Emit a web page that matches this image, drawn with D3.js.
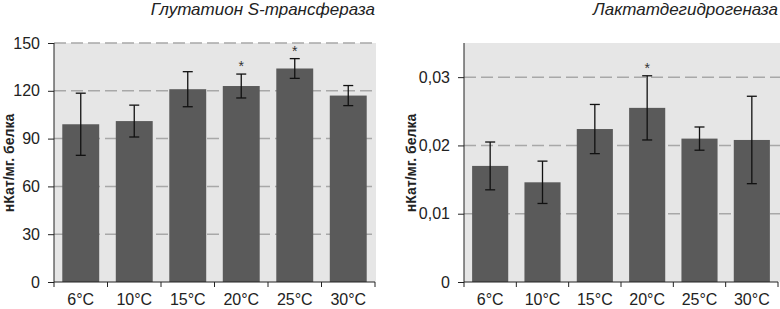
<!DOCTYPE html>
<html>
<head>
<meta charset="utf-8">
<script src="https://cdn.jsdelivr.net/npm/d3@7"></script>
<style>
  body { margin: 0; background: #fff; }
  svg { display: block; font-family: "Liberation Sans", Arial, sans-serif; }
</style>
</head>
<body>
<svg id="chart" width="780" height="309"></svg>
<script>
// temperatures (shared by both panels)
const temps = ["6°C", "10°C", "15°C", "20°C", "25°C", "30°C"];

// Глутатион S-трансфераза
const gstMean = [99, 101, 121, 123, 134, 117];
const gstErr = [19.5, 10, 11, 7.5, 6.2, 6.3];
const gstStar = [false, false, false, true, true, false];
const gstTicks = [0, 30, 60, 90, 120, 150];

// Лактатдегидрогеназа
const ldhMean = [0.0170, 0.0146, 0.0224, 0.0255, 0.0210, 0.0208];
const ldhErr = [0.0035, 0.0031, 0.0036, 0.0047, 0.0017, 0.0064];
const ldhStar = [false, false, false, true, false, false];
const ldhTicks = [0, 0.01, 0.02, 0.03];

const svg = d3.select("#chart");

function drawPanel(opts) {
    const g = svg.append("g");
    const x = d3.scaleBand().domain(temps).range([opts.x0, opts.x1]).padding(0);
    const y = d3.scaleLinear().domain([0, opts.yMax]).range([282, 43]);
    const barW = x.bandwidth() * 0.69;
    const rows = temps.map((t, i) => ({ t: t, v: opts.mean[i], e: opts.err[i], star: opts.star[i] }));
    const cx = t => x(t) + x.bandwidth() / 2;

    // plot background
    g.append("rect")
        .attr("x", opts.x0).attr("y", y(opts.yMax))
        .attr("width", opts.bgRight - opts.x0).attr("height", y(0) - y(opts.yMax))
        .attr("fill", "#e6e6e6");

    // dashed grid
    g.selectAll(".grid").data(opts.ticks.filter(d => d > 0)).join("line")
        .attr("class", "grid")
        .attr("x1", opts.x0).attr("x2", opts.bgRight)
        .attr("y1", d => y(d)).attr("y2", d => y(d))
        .attr("stroke", "#a8a8a8").attr("stroke-width", 1.5)
        .attr("stroke-dasharray", "12,5");

    // bars
    g.selectAll(".bar").data(rows).join("rect")
        .attr("class", "bar")
        .attr("x", d => x(d.t) + (x.bandwidth() - barW) / 2)
        .attr("y", d => y(d.v))
        .attr("width", barW)
        .attr("height", d => y(0) - y(d.v))
        .attr("fill", "#5a5a5a");

    // error bars
    const eb = g.selectAll(".err").data(rows).join("g").attr("class", "err")
        .attr("stroke", "#111").attr("stroke-width", 1.3);
    eb.append("line")
        .attr("x1", d => cx(d.t)).attr("x2", d => cx(d.t))
        .attr("y1", d => y(d.v + d.e)).attr("y2", d => y(d.v - d.e));
    eb.append("line")
        .attr("x1", d => cx(d.t) - 5).attr("x2", d => cx(d.t) + 5)
        .attr("y1", d => y(d.v + d.e)).attr("y2", d => y(d.v + d.e));
    eb.append("line")
        .attr("x1", d => cx(d.t) - 5).attr("x2", d => cx(d.t) + 5)
        .attr("y1", d => y(d.v - d.e)).attr("y2", d => y(d.v - d.e));

    // significance stars
    g.selectAll(".star").data(rows.filter(d => d.star)).join("text")
        .attr("class", "star")
        .attr("x", d => cx(d.t))
        .attr("y", d => y(d.v + d.e) - 3)
        .attr("text-anchor", "middle")
        .attr("font-size", 14)
        .attr("fill", "#333")
        .text("*");

    // y axis
    const yAxis = d3.axisLeft(y).tickValues(opts.ticks).tickSize(6).tickPadding(8)
        .tickFormat(opts.fmt);
    const ya = g.append("g").attr("transform", `translate(${opts.x0},0)`).call(yAxis);
    ya.select(".domain").attr("stroke", "#222").attr("d", `M0,${y(0)}V${y(opts.yMax)}`);
    ya.selectAll(".tick line").attr("stroke", "#222");
    ya.selectAll(".tick text").attr("font-size", 16).attr("fill", "#222")
        .attr("font-family", "Liberation Sans, Arial, sans-serif");

    // x axis: line with ticks at band edges
    g.append("line")
        .attr("x1", opts.x0).attr("x2", opts.x1)
        .attr("y1", y(0)).attr("y2", y(0))
        .attr("stroke", "#222");
    const edges = temps.map(t => x(t)).concat([opts.x1]);
    g.selectAll(".xtick").data(edges).join("line")
        .attr("x1", d => d).attr("x2", d => d)
        .attr("y1", y(0)).attr("y2", y(0) + 5)
        .attr("stroke", "#222");
    g.selectAll(".xlab").data(temps).join("text")
        .attr("x", d => cx(d))
        .attr("y", 305)
        .attr("text-anchor", "middle")
        .attr("font-size", 16).attr("fill", "#222")
        .text(d => d);

    // y label
    g.append("text")
        .attr("transform", `translate(${opts.labelX},163) rotate(-90)`)
        .attr("text-anchor", "middle")
        .attr("font-size", 14).attr("font-weight", "bold").attr("fill", "#222")
        .text("нКат/мг. белка");

    // title
    g.append("text")
        .attr("x", opts.titleRight).attr("y", 15)
        .attr("text-anchor", "end")
        .attr("font-size", 17).attr("font-style", "italic").attr("fill", "#222")
        .text(opts.title);
}

drawPanel({
    x0: 54, x1: 375, bgRight: 376, yMax: 150,
    mean: gstMean, err: gstErr, star: gstStar, ticks: gstTicks,
    fmt: d => d, labelX: 13.5, titleRight: 375,
    title: "Глутатион S-трансфераза"
});

drawPanel({
    x0: 464, x1: 778, bgRight: 780, yMax: 0.035,
    mean: ldhMean, err: ldhErr, star: ldhStar, ticks: ldhTicks,
    fmt: d => d === 0 ? "0" : d3.format(".2f")(d).replace(".", ","),
    labelX: 416, titleRight: 778,
    title: "Лактатдегидрогеназа"
});
</script>
</body>
</html>
